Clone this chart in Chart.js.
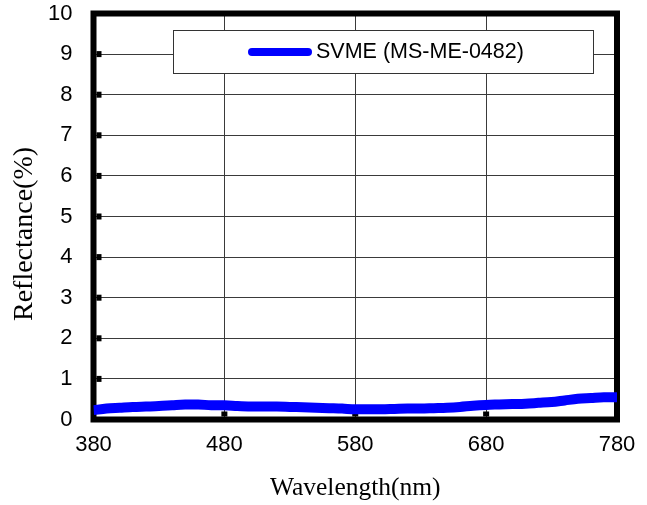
<!DOCTYPE html>
<html>
<head>
<meta charset="utf-8">
<script src="https://cdn.jsdelivr.net/npm/chart.js@4/dist/chart.umd.min.js"></script>
<style>
  html, body { margin: 0; padding: 0; background: #ffffff; }
  #wrap { width: 647px; height: 505px; position: relative; }
</style>
</head>
<body>
<div id="wrap"><canvas id="c" width="647" height="505"></canvas></div>
<script>
// ---- data ----
const wavelengths = [380,390,400,410,420,430,440,450,460,470,480,490,500,510,520,530,540,550,560,570,580,
                     590,600,610,620,630,640,650,660,670,680,690,700,710,720,730,740,750,760,770,780];
const reflectance = [0.23,0.27,0.29,0.31,0.32,0.33,0.35,0.37,0.37,0.35,0.35,0.33,0.32,0.32,0.32,0.31,0.30,0.29,0.28,0.27,0.25,
                     0.25,0.25,0.26,0.27,0.27,0.28,0.29,0.31,0.34,0.36,0.37,0.38,0.39,0.41,0.43,0.47,0.51,0.53,0.55,0.55];
const seriesName = 'SVME (MS-ME-0482)';
const xTitle = 'Wavelength(nm)';
const yTitle = 'Reflectance(%)';
const xTickMin = 380, xTickMax = 780, xTickStep = 100;
const yTickMin = 0, yTickMax = 10, yTickStep = 1;

const SANS = '"Liberation Sans", Arial, Helvetica, sans-serif';
const SERIF = '"Liberation Serif", "Times New Roman", Times, serif';

const framePlugin = {
  id: 'frame',
  beforeDatasetsDraw(chart) {
    const {ctx, chartArea: a, scales} = chart;
    ctx.save();
    ctx.fillStyle = '#000';
    // inward tick marks
    scales.y.ticks.forEach(t => {
      if (t.value <= yTickMin || t.value >= yTickMax) return;
      const y = scales.y.getPixelForValue(t.value);
      ctx.fillRect(a.left + 3, y - 3, 5, 6);
    });
    scales.x.ticks.forEach(t => {
      if (t.value <= xTickMin || t.value >= xTickMax) return;
      const x = scales.x.getPixelForValue(t.value);
      ctx.fillRect(x - 3, a.bottom - 3 - 5, 6, 5);
    });
    // thick frame
    ctx.strokeStyle = '#000';
    ctx.lineWidth = 6;
    ctx.lineJoin = 'miter';
    ctx.strokeRect(a.left, a.top, a.right - a.left, a.bottom - a.top);
    ctx.restore();
  },
  afterDraw(chart) {
    const {ctx} = chart;
    ctx.save();
    // legend box
    ctx.fillStyle = '#fff';
    ctx.fillRect(173, 30.5, 421, 43);
    ctx.strokeStyle = '#333';
    ctx.lineWidth = 1;
    ctx.strokeRect(173.5, 30.5, 420, 43);
    ctx.strokeStyle = '#0000ff';
    ctx.lineWidth = 8;
    ctx.lineCap = 'round';
    ctx.beginPath();
    ctx.moveTo(252, 52);
    ctx.lineTo(308, 52);
    ctx.stroke();
    ctx.fillStyle = '#000';
    ctx.font = '21.5px ' + SANS;
    ctx.textAlign = 'left';
    ctx.textBaseline = 'middle';
    ctx.fillText(seriesName, 316, 52.5);
    // y axis title
    ctx.translate(25, 234);
    ctx.rotate(-Math.PI / 2);
    ctx.font = '28px ' + SERIF;
    ctx.textAlign = 'center';
    ctx.textBaseline = 'middle';
    ctx.fillText(yTitle, 0, 0);
    ctx.restore();
  }
};

new Chart(document.getElementById('c'), {
  type: 'line',
  data: {
    datasets: [{
      label: seriesName,
      data: wavelengths.map((w, i) => ({x: w, y: reflectance[i]})),
      borderColor: '#0000ff',
      backgroundColor: '#0000ff',
      borderWidth: 10,
      pointRadius: 0,
      tension: 0.4,
      cubicInterpolationMode: 'monotone',
      fill: false
    }]
  },
  options: {
    responsive: false,
    animation: false,
    devicePixelRatio: 1,
    layout: { padding: { left: 0, top: 13.5, right: 30, bottom: 0 } },
    plugins: { legend: { display: false }, tooltip: { enabled: false } },
    scales: {
      x: {
        type: 'linear',
        min: xTickMin, max: xTickMax,
        afterFit(s) { s.height = 85.5; s.paddingLeft = 0; s.paddingRight = 0; },
        ticks: { stepSize: xTickStep, color: '#000', font: { family: SANS, size: 22 }, padding: 12, maxRotation: 0 },
        grid: { color: '#3a3a3a', lineWidth: 1, drawTicks: false },
        border: { display: false },
        title: { display: true, text: xTitle, color: '#000', font: { family: SERIF, size: 25.5 }, padding: { top: 0, bottom: 1 } }
      },
      y: {
        type: 'linear',
        min: yTickMin, max: yTickMax,
        afterFit(s) { s.width = 93.5; s.paddingTop = 0; s.paddingBottom = 0; },
        ticks: { stepSize: yTickStep, color: '#000', font: { family: SANS, size: 22 }, padding: 21 },
        grid: { color: '#3a3a3a', lineWidth: 1, drawTicks: false },
        border: { display: false }
      }
    }
  },
  plugins: [framePlugin]
});
</script>
</body>
</html>
